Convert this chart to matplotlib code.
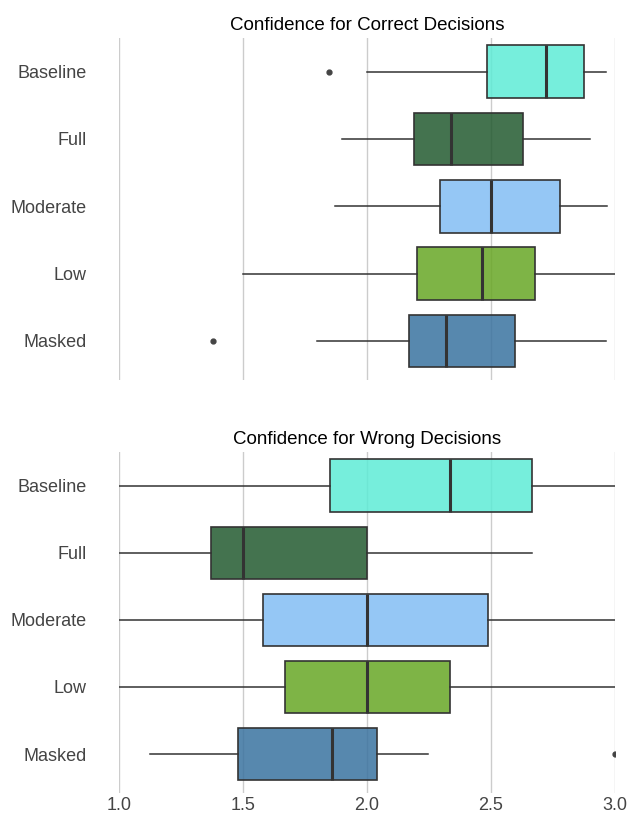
import matplotlib.pyplot as plt
import matplotlib.colors as mcolors
import numpy as np

plt.rcParams['font.family'] = ['Liberation Sans', 'DejaVu Sans']

# Data: whisker low, Q1, median, Q3, whisker high
groups = ["Baseline", "Full", "Moderate", "Low", "Masked"]
colors = ["#5EEBD6", "#235A30", "#83BEF4", "#68A725", "#3A73A0"]

correct_lo = [2.00, 1.90, 1.87, 1.50, 1.80]
correct_q1 = [2.484, 2.19, 2.296, 2.20, 2.17]
correct_med = [2.72, 2.337, 2.50, 2.465, 2.32]
correct_q3 = [2.873, 2.63, 2.78, 2.676, 2.596]
correct_hi = [2.964, 2.90, 2.967, 3.00, 2.964]
correct_out = [[1.847], [], [], [], [1.379]]

wrong_lo = [1.00, 1.00, 1.00, 1.00, 1.127]
wrong_q1 = [1.849, 1.373, 1.58, 1.668, 1.482]
wrong_med = [2.333, 1.50, 2.00, 2.00, 1.858]
wrong_q3 = [2.666, 2.00, 2.487, 2.333, 2.039]
wrong_hi = [3.00, 2.664, 3.00, 3.00, 2.248]
wrong_out = [[], [], [], [], [3.0]]


def make_stats(lo, q1, med, q3, hi, out):
    return [dict(whislo=lo[i], q1=q1[i], med=med[i], q3=q3[i], whishi=hi[i],
                 fliers=out[i], label=groups[i]) for i in range(len(groups))]


fig = plt.figure(figsize=(6.36, 8.18), dpi=100)
ax1 = fig.add_axes([0.187, 1 - 380 / 818, 0.780, 342 / 818])
ax2 = fig.add_axes([0.187, 1 - 793 / 818, 0.780, 341 / 818])

panels = [
    (ax1, make_stats(correct_lo, correct_q1, correct_med, correct_q3, correct_hi, correct_out),
     "Confidence for Correct Decisions"),
    (ax2, make_stats(wrong_lo, wrong_q1, wrong_med, wrong_q3, wrong_hi, wrong_out),
     "Confidence for Wrong Decisions"),
]

for ax, stats, title in panels:
    ax.set_axisbelow(True)
    ax.grid(axis='x', color='#cccccc', linewidth=1.0)
    ax.grid(axis='y', visible=False)
    bp = ax.bxp(stats, positions=np.arange(len(groups)), vert=False, widths=0.78,
                patch_artist=True, showcaps=False,
                boxprops=dict(edgecolor='#333333', linewidth=1.2),
                whiskerprops=dict(color='#333333', linewidth=1.1),
                medianprops=dict(color='#333333', linewidth=2.2),
                flierprops=dict(marker='o', markersize=3.5, markerfacecolor='#444444',
                                markeredgecolor='#444444'))
    for patch, c in zip(bp['boxes'], colors):
        patch.set_facecolor(mcolors.to_rgba(c, 0.85))
        patch.set_edgecolor('#333333')
    ax.set_xlim(1.0, 3.0)
    ax.set_ylim(4.58, -0.5)
    ax.set_xticks([1.0, 1.5, 2.0, 2.5, 3.0])
    ax.set_yticks(np.arange(len(groups)))
    ax.set_yticklabels(groups)
    ax.set_title(title, fontsize=13.5, color='black', pad=6)
    for s in ax.spines.values():
        s.set_visible(False)
    ax.tick_params(axis='y', length=0, labelsize=13, labelcolor='#444444', pad=23)
    ax.tick_params(axis='x', length=0, labelsize=13, labelcolor='#444444', pad=3)

ax1.tick_params(axis='x', labelbottom=False)

fig.savefig("out.png", dpi=100)
